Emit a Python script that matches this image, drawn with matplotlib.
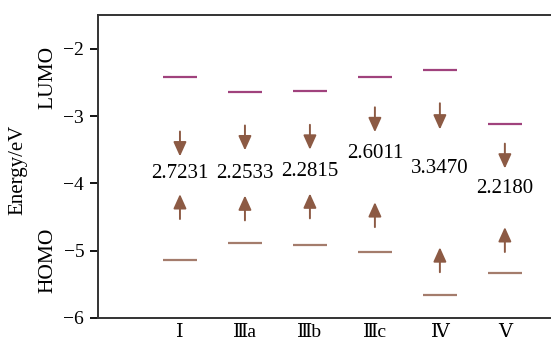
import matplotlib.pyplot as plt

plt.rcParams['font.family'] = ['Liberation Serif', 'DejaVu Serif', 'Noto Sans CJK SC']

molecules = ['Ⅰ', 'Ⅲa', 'Ⅲb', 'Ⅲc', 'Ⅳ', 'Ⅴ']
lumo = [-2.42, -2.64, -2.63, -2.42, -2.31, -3.12]
gap = [2.7231, 2.2533, 2.2815, 2.6011, 3.3470, 2.2180]
homo = [l - g for l, g in zip(lumo, gap)]

# where the gap value sits and the arrows pointing at it
label_y = [-3.85, -3.85, -3.83, -3.55, -3.78, -4.07]
down_arrow = [(-3.23, -3.60), (-3.14, -3.51), (-3.13, -3.50), (-2.87, -3.24), (-2.81, -3.20), (-3.41, -3.78)]
up_arrow = [(-4.53, -4.16), (-4.55, -4.18), (-4.52, -4.15), (-4.65, -4.28), (-5.32, -4.95), (-5.02, -4.65)]

lumo_color = '#a0427d'
homo_color = '#a47c6c'
arrow_color = '#8c5a44'

fig = plt.figure(figsize=(5.51, 3.43), dpi=100)
ax = fig.add_axes([0.178, 0.073, 0.822, 0.883])

x = list(range(len(molecules)))
ax.hlines(lumo, [i - 0.26 for i in x], [i + 0.26 for i in x], color=lumo_color, lw=1.6)
ax.hlines(homo, [i - 0.26 for i in x], [i + 0.26 for i in x], color=homo_color, lw=1.6)

arrow = dict(arrowstyle='-|>,head_length=0.62,head_width=0.28', color=arrow_color,
             lw=1.4, mutation_scale=14, shrinkA=0, shrinkB=0)
for i in x:
    ax.annotate('', xy=(i, down_arrow[i][1]), xytext=(i, down_arrow[i][0]), arrowprops=arrow)
    ax.annotate('', xy=(i, up_arrow[i][1]), xytext=(i, up_arrow[i][0]), arrowprops=arrow)
    ax.text(i, label_y[i], f'{gap[i]:.4f}', ha='center', va='center', fontsize=15)

ax.set_xlim(-1.26, 5.71)
ax.set_ylim(-6, -1.5)
ax.set_yticks([-6, -5, -4, -3, -2])
ax.set_yticklabels(['−6', '−5', '−4', '−3', '−2'])
ax.set_xticks(x)
ax.set_xticklabels(molecules)
ax.tick_params(axis='y', direction='out', length=6, width=1.3, labelsize=14, pad=4)
ax.tick_params(axis='x', length=0, labelsize=14, pad=4)

ax.spines['right'].set_visible(False)
for s in ['left', 'top', 'bottom']:
    ax.spines[s].set_linewidth(1.4)
    ax.spines[s].set_color('#333333')

fig.text(0.033, 0.504, 'Energy/eV', rotation=90, ha='center', va='center', fontsize=15)
fig.text(0.087, 0.773, 'LUMO', rotation=90, ha='center', va='center', fontsize=15.5)
fig.text(0.087, 0.242, 'HOMO', rotation=90, ha='center', va='center', fontsize=15.5)

fig.savefig('out.png', dpi=100)
